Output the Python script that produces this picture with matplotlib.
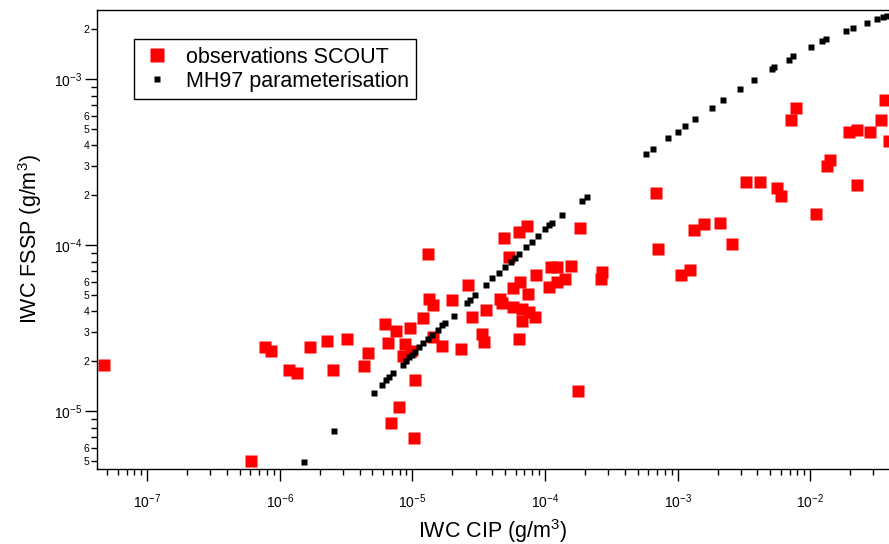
import numpy as np
import matplotlib
matplotlib.use('Agg')
import matplotlib.pyplot as plt
from matplotlib.ticker import LogLocator, FuncFormatter, NullFormatter
from matplotlib.lines import Line2D

plt.rcParams['font.family'] = ['Liberation Sans', 'DejaVu Sans']
plt.rcParams['mathtext.fontset'] = 'custom'
plt.rcParams['mathtext.rm'] = 'Liberation Sans'
plt.rcParams['mathtext.it'] = 'Liberation Sans:italic'
plt.rcParams['mathtext.default'] = 'regular'

# observations SCOUT (IWC CIP, IWC FSSP) in g/m3
obs_cip = [4.75e-8, 6.10e-7, 7.77e-7, 8.63e-7, 1.18e-6, 1.35e-6, 1.70e-6, 2.28e-6, 2.53e-6, 3.23e-6,
           4.32e-6, 4.65e-6, 6.25e-6, 6.58e-6, 7.52e-6, 7.96e-6, 6.93e-6, 8.45e-6, 8.84e-6, 9.64e-6,
           9.70e-6, 1.03e-5, 1.05e-5, 1.21e-5, 1.30e-5, 1.34e-5, 1.44e-5, 1.42e-5, 1.68e-5, 1.98e-5,
           2.34e-5, 2.64e-5, 2.83e-5, 3.33e-5, 3.48e-5, 3.61e-5, 4.55e-5, 4.72e-5, 4.93e-5, 5.35e-5,
           5.77e-5, 5.77e-5, 6.40e-5, 6.40e-5, 6.51e-5, 6.67e-5, 6.74e-5, 7.35e-5, 7.48e-5, 7.61e-5,
           8.45e-5, 8.60e-5, 1.08e-4, 1.11e-4, 1.225e-4, 1.24e-4, 1.42e-4, 1.58e-4, 1.78e-4, 1.85e-4,
           2.66e-4, 2.70e-4, 6.91e-4, 7.15e-4, 1.07e-3, 1.25e-3, 1.34e-3, 1.59e-3, 2.10e-3, 2.585e-3,
           3.30e-3, 4.20e-3, 5.65e-3, 6.05e-3, 7.20e-3, 7.86e-3, 1.11e-2, 1.35e-2, 1.42e-2, 1.97e-2,
           2.27e-2, 2.26e-2, 2.84e-2, 3.44e-2, 3.65e-2, 3.91e-2]
obs_fssp = [1.90e-5, 5.01e-6, 2.44e-5, 2.31e-5, 1.77e-5, 1.71e-5, 2.44e-5, 2.65e-5, 1.77e-5, 2.72e-5,
            1.88e-5, 2.25e-5, 3.35e-5, 2.58e-5, 3.05e-5, 1.06e-5, 8.49e-6, 2.16e-5, 2.55e-5, 3.17e-5,
            2.31e-5, 6.90e-6, 1.55e-5, 3.64e-5, 8.85e-5, 4.74e-5, 4.36e-5, 2.80e-5, 2.47e-5, 4.70e-5,
            2.37e-5, 5.76e-5, 3.69e-5, 2.94e-5, 2.62e-5, 4.07e-5, 4.74e-5, 4.49e-5, 1.105e-4, 8.49e-5,
            5.52e-5, 4.24e-5, 1.21e-4, 2.73e-5, 6.00e-5, 4.13e-5, 3.51e-5, 1.31e-4, 5.08e-5, 3.96e-5,
            3.69e-5, 6.61e-5, 5.60e-5, 7.45e-5, 6.03e-5, 7.39e-5, 6.26e-5, 7.49e-5, 1.32e-5, 1.27e-4,
            6.26e-5, 6.90e-5, 2.06e-4, 9.49e-5, 6.61e-5, 7.09e-5, 1.235e-4, 1.34e-4, 1.36e-4, 1.02e-4,
            2.40e-4, 2.40e-4, 2.21e-4, 1.98e-4, 5.68e-4, 6.71e-4, 1.54e-4, 3.01e-4, 3.26e-4, 4.81e-4,
            4.94e-4, 2.31e-4, 4.81e-4, 5.68e-4, 7.52e-4, 4.26e-4]

# MH97 parameterisation
mh_cip = [1.52e-6, 2.56e-6, 5.13e-6, 5.87e-6, 6.32e-6, 6.70e-6, 7.18e-6, 8.45e-6, 8.95e-6, 9.48e-6,
          9.88e-6, 1.046e-5, 1.127e-5, 1.208e-5, 1.318e-5, 1.398e-5, 1.552e-5, 1.681e-5, 1.762e-5, 2.06e-5,
          2.57e-5, 2.72e-5, 2.97e-5, 3.59e-5, 3.96e-5, 4.50e-5, 4.97e-5, 5.57e-5, 5.91e-5, 6.40e-5,
          7.19e-5, 8.02e-5, 8.81e-5, 1.0e-4, 1.078e-4, 1.135e-4, 1.343e-4, 1.901e-4, 2.084e-4,
          5.78e-4, 6.49e-4, 8.46e-4, 1.002e-3, 1.131e-3, 1.353e-3, 1.808e-3, 2.211e-3, 2.94e-3, 3.79e-3,
          5.13e-3, 5.33e-3, 6.88e-3, 7.46e-3, 1.009e-2, 1.234e-2, 1.309e-2, 1.852e-2, 2.09e-2, 2.67e-2,
          3.21e-2, 3.52e-2, 3.78e-2]
mh_fssp = [4.96e-6, 7.63e-6, 1.298e-5, 1.450e-5, 1.548e-5, 1.607e-5, 1.699e-5, 1.906e-5, 2.023e-5, 2.121e-5,
           2.181e-5, 2.283e-5, 2.436e-5, 2.575e-5, 2.745e-5, 2.89e-5, 3.097e-5, 3.32e-5, 3.40e-5, 3.78e-5,
           4.49e-5, 4.70e-5, 5.01e-5, 5.78e-5, 6.37e-5, 6.86e-5, 7.45e-5, 7.99e-5, 8.37e-5, 8.89e-5,
           9.75e-5, 1.054e-4, 1.141e-4, 1.252e-4, 1.329e-4, 1.372e-4, 1.520e-4, 1.854e-4, 1.968e-4,
           3.56e-4, 3.81e-4, 4.44e-4, 4.85e-4, 5.23e-4, 5.78e-4, 6.76e-4, 7.55e-4, 8.73e-4, 9.97e-4,
           1.157e-3, 1.184e-3, 1.316e-3, 1.380e-3, 1.563e-3, 1.699e-3, 1.747e-3, 1.952e-3, 2.035e-3, 2.18e-3,
           2.31e-3, 2.37e-3, 2.41e-3]

fig = plt.figure(figsize=(8.89, 5.44), dpi=100)
ax = fig.add_axes([97/889, 75/544, 792/889, 459/544])

ax.plot(obs_cip, obs_fssp, 's', ms=8, color='red', mec='none')
ax.plot(mh_cip, mh_fssp, 's', ms=4.8, color='black', mec='none')

ax.set_xscale('log')
ax.set_yscale('log')
ax.set_xlim(4.18e-8, 3.93e-2)
ax.set_ylim(4.50e-6, 2.62e-3)

ax.spines['right'].set_visible(False)
for s in ['left', 'bottom', 'top']:
    ax.spines[s].set_linewidth(1.0)

sub = np.arange(2, 10)
ax.xaxis.set_major_locator(LogLocator(base=10))
ax.xaxis.set_minor_locator(LogLocator(base=10, subs=sub, numticks=20))
ax.xaxis.set_minor_formatter(NullFormatter())
ax.yaxis.set_major_locator(LogLocator(base=10))
ax.yaxis.set_minor_locator(LogLocator(base=10, subs=sub, numticks=20))


def minor_lab(v, pos):
    m = int(round(v / 10 ** np.floor(np.log10(v) + 1e-9)))
    return str(m) if 2 <= m <= 6 else ''


ax.yaxis.set_minor_formatter(FuncFormatter(minor_lab))

ax.tick_params(axis='both', which='major', direction='out', length=8.5, width=1.0, labelsize=10)
ax.tick_params(axis='both', which='minor', direction='out', length=4.5, width=1.0)
ax.tick_params(axis='y', which='minor', labelsize=7.5, pad=1)
ax.tick_params(axis='y', which='major', pad=2)
ax.tick_params(axis='x', which='major', pad=8)

ax.set_xlabel('IWC CIP (g/m$^3$)', fontsize=15.5)
ax.xaxis.set_label_coords(0.5, -0.135)
ax.xaxis.label.set_va('center')
ax.set_ylabel('IWC FSSP (g/m$^3$)', fontsize=15.5)
ax.yaxis.set_label_coords(-0.085, 0.5)
ax.yaxis.label.set_va('center')

handles = [Line2D([], [], marker='s', ls='none', color='red', mec='none', ms=10),
           Line2D([], [], marker='s', ls='none', color='black', mec='none', ms=4.5)]
leg = ax.legend(handles, ['observations SCOUT', 'MH97 parameterisation'],
                loc='upper left', bbox_to_anchor=(37/792, 1 - 29/459), fontsize=15.5,
                frameon=True, fancybox=False, edgecolor='black', framealpha=1,
                handlelength=1.4, handletextpad=0.65, borderpad=0.35, labelspacing=0.15,
                borderaxespad=0)
leg.get_frame().set_linewidth(1.0)

plt.savefig('out.png', dpi=100)
